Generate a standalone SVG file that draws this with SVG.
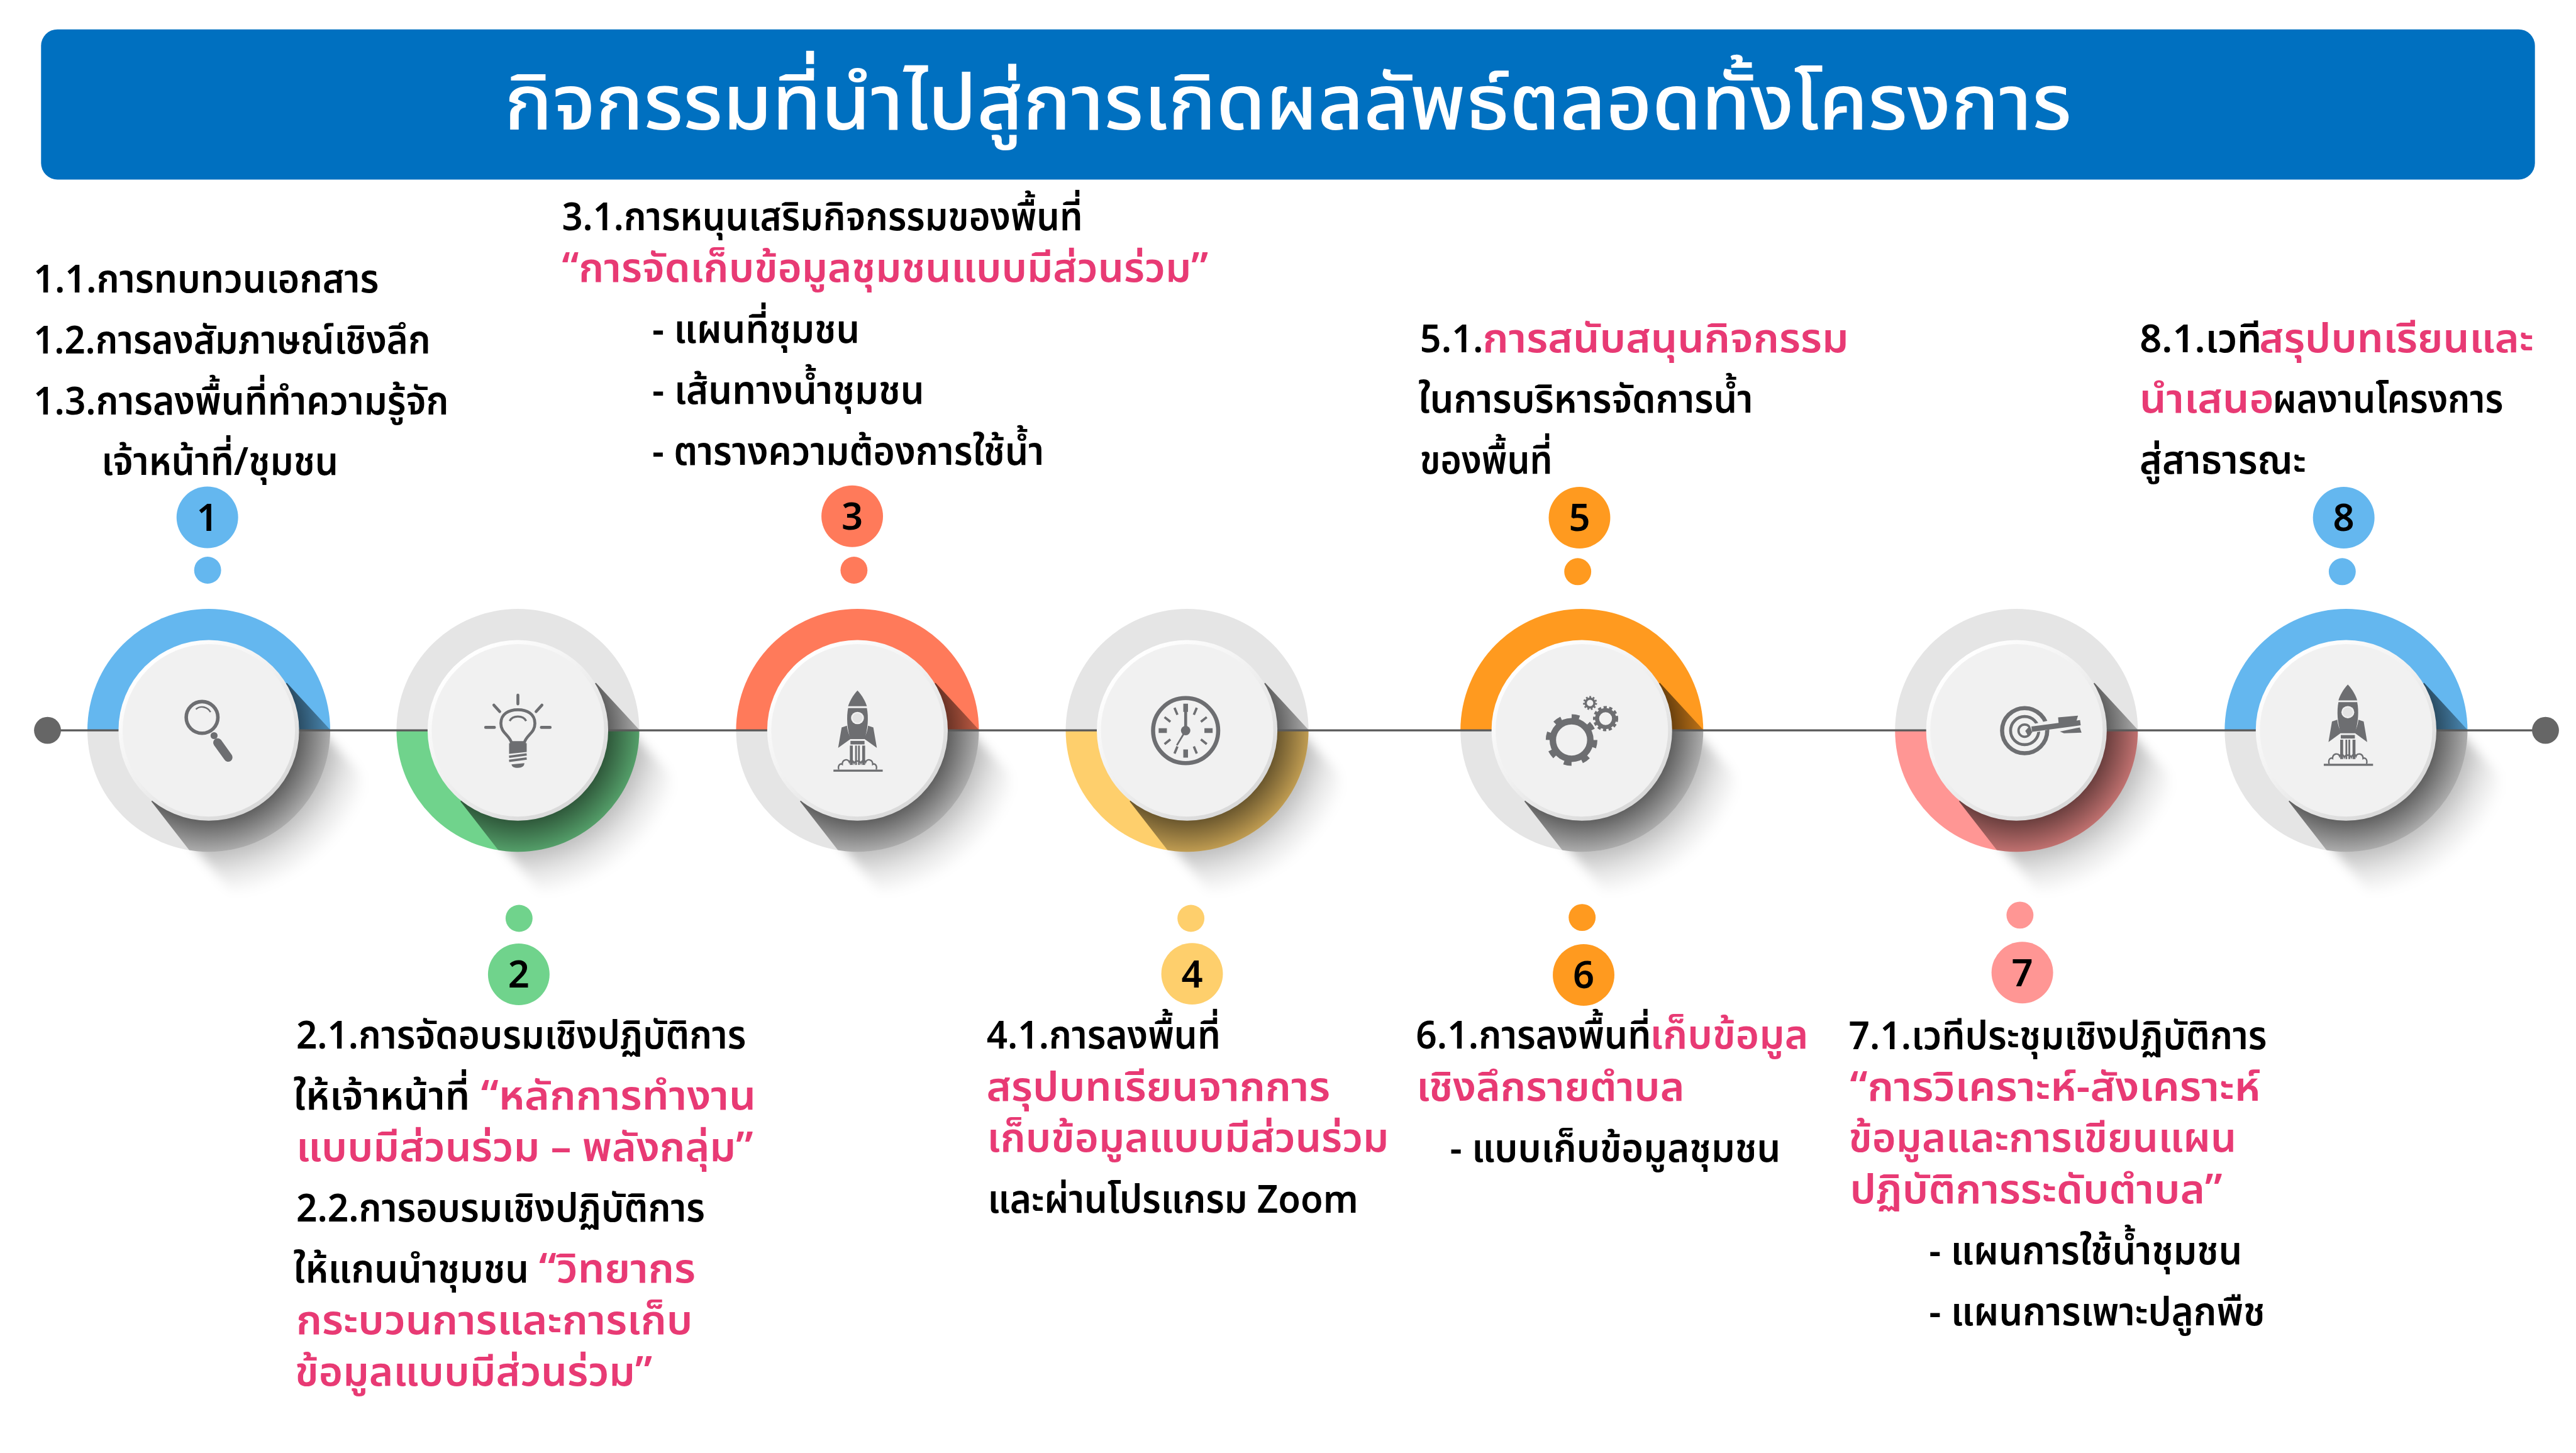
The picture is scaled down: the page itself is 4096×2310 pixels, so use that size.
<svg xmlns="http://www.w3.org/2000/svg" xmlns:xlink="http://www.w3.org/1999/xlink" width="4096" height="2310" viewBox="0 0 4096 2310">
<style>
text{font-family:"Noto Sans Thai","Noto Sans","Liberation Sans","DejaVu Sans",sans-serif}
.b{font-size:66px;font-weight:600;fill:#000}
.r{font-size:69px;font-weight:600;fill:#e83a74}
.t{font-size:132px;font-weight:500;fill:#fff}
.n{font-size:64px;font-weight:600;fill:#000;text-anchor:middle}
.blue{fill:#64b7ef}.green{fill:#70d38c}.coral{fill:#ff7a5a}.yellow{fill:#fecf6c}.orange{fill:#ff9a1f}.pink{fill:#ff9694}
.grey{fill:#e5e5e5}
.i{fill:#6d6e71}
.s{fill:none;stroke:#6d6e71}
.conn{fill:none;stroke:#595959;stroke-width:3.500}
</style>
<defs>
<radialGradient id="sh" gradientUnits="userSpaceOnUse" cx="0" cy="0" r="300">
<stop offset=".5" stop-color="#000" stop-opacity=".6"/>
<stop offset=".69" stop-color="#000" stop-opacity=".25"/>
<stop offset="1" stop-color="#000" stop-opacity=".1"/>
</radialGradient>
<radialGradient id="shOut" gradientUnits="userSpaceOnUse" cx="0" cy="0" r="285">
<stop offset=".7" stop-color="#000" stop-opacity=".27"/>
<stop offset=".85" stop-color="#000" stop-opacity=".1"/>
<stop offset="1" stop-color="#000" stop-opacity="0"/>
</radialGradient>
<linearGradient id="rim" x1=".18" y1=".12" x2=".8" y2=".88">
<stop offset="0" stop-color="#fff"/>
<stop offset=".5" stop-color="#efefef"/>
<stop offset="1" stop-color="#d9d9d9"/>
</linearGradient>
<filter id="soft" filterUnits="userSpaceOnUse" x="-100" y="-100" width="500" height="500"><feGaussianBlur stdDeviation="9"/></filter>
<clipPath id="disc"><circle r="207"/></clipPath>
<path id="up" d="M-207,0A207,207 0 0 1 207,0Z"/>
<path id="down" d="M-207,0A207,207 0 0 0 207,0Z"/>
<path id="cast" d="M190,0L256,71L268,140L225,225L140,275L38,275L-32,190Z" fill="url(#shOut)" filter="url(#soft)"/>
<g id="face">
<path d="M133,-81L350,154L100,376L-98,121Z" fill="url(#sh)" clip-path="url(#disc)"/>
<circle r="154" fill="url(#rim)"/>
<circle r="147" fill="#f1f1f1"/>
</g>
<g id="rocket">
<path class="i" d="M0,0C-8,8-14,20-16,27H16C14,20 8,8 0,0Z"/>
<path class="i" d="M-16,30H16C19,45 18,65 12,83H-12C-18,65-19,45-16,30Z"/>
<ellipse cy="47" rx="11" ry="10.500" fill="#f1f1f1"/>
<ellipse cy="47" rx="8.500" ry="8" fill="#e3e3e3"/>
<path class="i" d="M-27,63L-18,60C-17,70-14,76-11,82L-33,98Z"/>
<path class="i" d="M27,63L18,60C17,70 14,76 11,82L33,98Z"/>
<rect class="i" x="-12" y="86" width="24" height="6"/>
<rect class="i" x="-13" y="94" width="5" height="33"/>
<rect class="i" x="-4" y="94" width="3" height="33"/>
<rect class="i" x="1" y="94" width="3" height="33"/>
<rect class="i" x="8" y="94" width="5" height="33"/>
<path class="s" stroke-width="2.500" d="M-32,135C-34,127-29,124-26,126C-26,117-16,116-14,122C-12,118-8,118-6,124C-4,119 4,119 6,124C8,118 12,118 14,122C16,116 26,117 26,126C29,124 34,127 32,135"/>
<rect class="i" x="-41" y="135" width="84" height="3.500"/>
</g>
</defs>
<g transform="scale(.93260)">
<g id="header">
<rect x="70" y="50" width="4252" height="256" rx="28" fill="#0070c0"/>
<text class="t" x="860" y="221" textLength="2672" lengthAdjust="spacingAndGlyphs">กิจกรรมที่นำไปสู่การเกิดผลลัพธ์ตลอดทั้งโครงการ</text>
</g>

<g id="node-1">
<use href="#cast" x="356" y="1245"/>
<use href="#up" x="356" y="1245" class="blue"/><use href="#down" x="356" y="1245" class="grey"/>
<use href="#face" x="356" y="1245"/>
<circle class="s" cx="344.500" cy="1223" r="27" stroke-width="6"/>
<path class="s" stroke-width="2.500" d="M334,1209C342,1202 354,1205 359,1214"/>
<circle class="i" cx="365" cy="1254" r="6"/>
<path class="s" stroke-width="15" stroke-linecap="round" d="M371,1266L389,1291"/>
<circle class="blue" cx="354" cy="972" r="23"/>
<circle class="blue" cx="353.500" cy="882" r="52.500"/>
<text class="n" x="353.500" y="905">1</text>
<text class="b" x="57" y="499" textLength="589" lengthAdjust="spacingAndGlyphs">1.1.การทบทวนเอกสาร</text>
<text class="b" x="57" y="603" textLength="677" lengthAdjust="spacingAndGlyphs">1.2.การลงสัมภาษณ์เชิงลึก</text>
<text class="b" x="57" y="707" textLength="708" lengthAdjust="spacingAndGlyphs">1.3.การลงพื้นที่ทำความรู้จัก</text>
<text class="b" x="173" y="810" textLength="404" lengthAdjust="spacingAndGlyphs">เจ้าหน้าที่/ชุมชน</text>
</g>

<g id="node-2">
<use href="#cast" x="883" y="1245"/>
<use href="#up" x="883" y="1245" class="grey"/><use href="#down" x="883" y="1245" class="green"/>
<use href="#face" x="883" y="1245"/>
<path class="s" stroke-width="5" d="M872,1266C868,1252 854,1250 854,1233C854,1217 867,1210 883,1210C899,1210 912,1217 912,1233C912,1250 898,1252 894,1266Z"/>
<path class="s" stroke-width="3.500" d="M869,1229C874,1219 892,1219 897,1229"/>
<path class="i" d="M868,1267H898V1282L868,1285Z"/>
<path class="s" stroke-width="4" d="M868,1290L898,1286M868,1297L898,1293"/>
<path class="i" d="M872,1303L894,1301C894,1306 890,1309 883,1309C876,1309 873,1307 872,1303Z"/>
<path class="s" stroke-width="5" stroke-linecap="round" d="M883,1185V1200M842,1202L852,1213M924,1202L914,1213M828,1240H843M923,1240H938"/>
<circle class="green" cx="885" cy="1565.500" r="23"/>
<circle class="green" cx="884.500" cy="1661" r="52.500"/>
<text class="n" x="884.500" y="1684">2</text>
<text class="b" x="505" y="1787" textLength="767" lengthAdjust="spacingAndGlyphs">2.1.การจัดอบรมเชิงปฏิบัติการ</text>
<text class="b" x="500" y="1891" textLength="301" lengthAdjust="spacingAndGlyphs">ให้เจ้าหน้าที่</text>
<text class="r" x="820" y="1891" textLength="469" lengthAdjust="spacingAndGlyphs">“หลักการทำงาน</text>
<text class="r" x="505" y="1979" textLength="779" lengthAdjust="spacingAndGlyphs">แบบมีส่วนร่วม – พลังกลุ่ม”</text>
<text class="b" x="505" y="2082" textLength="697" lengthAdjust="spacingAndGlyphs">2.2.การอบรมเชิงปฏิบัติการ</text>
<text class="b" x="500" y="2186" textLength="402" lengthAdjust="spacingAndGlyphs">ให้แกนนำชุมชน</text>
<text class="r" x="919" y="2186" textLength="267" lengthAdjust="spacingAndGlyphs">“วิทยากร</text>
<text class="r" x="505" y="2274" textLength="676" lengthAdjust="spacingAndGlyphs">กระบวนการและการเก็บ</text>
<text class="r" x="503" y="2362" textLength="609" lengthAdjust="spacingAndGlyphs">ข้อมูลแบบมีส่วนร่วม”</text>
</g>

<g id="node-3">
<use href="#cast" x="1462" y="1245"/>
<use href="#up" x="1462" y="1245" class="coral"/><use href="#down" x="1462" y="1245" class="grey"/>
<use href="#face" x="1462" y="1245"/>
<use href="#rocket" x="1462" y="1177"/>
<circle class="coral" cx="1456" cy="972" r="23"/>
<circle class="coral" cx="1453" cy="880" r="52.500"/>
<text class="n" x="1453" y="903">3</text>
<text class="b" x="958" y="392" textLength="888" lengthAdjust="spacingAndGlyphs">3.1.การหนุนเสริมกิจกรรมของพื้นที่</text>
<text class="r" x="958" y="480" textLength="1102" lengthAdjust="spacingAndGlyphs">“การจัดเก็บข้อมูลชุมชนแบบมีส่วนร่วม”</text>
<text class="b" x="1112" y="584" textLength="354" lengthAdjust="spacingAndGlyphs">- แผนที่ชุมชน</text>
<text class="b" x="1112" y="688" textLength="464" lengthAdjust="spacingAndGlyphs">- เส้นทางน้ำชุมชน</text>
<text class="b" x="1112" y="792" textLength="668" lengthAdjust="spacingAndGlyphs">- ตารางความต้องการใช้น้ำ</text>
</g>

<g id="node-4">
<use href="#cast" x="2024" y="1245"/>
<use href="#up" x="2024" y="1245" class="grey"/><use href="#down" x="2024" y="1245" class="yellow"/>
<use href="#face" x="2024" y="1245"/>
<g transform="translate(2021.500,1245.500)">
<circle class="s" r="55.500" stroke-width="7"/>
<path class="s" stroke-width="8" d="M0,-46V-32M0,46V32M-46,0H-32M46,0H32"/>
<path class="s" stroke-width="4" d="M-19,-39L-14,-27M19,-39L14,-27M-36,-23L-26,-15M36,-23L26,-15M-36,23L-26,15M36,23L26,15M-19,39L-14,27M19,39L14,27"/>
<path class="s" stroke-width="5" d="M0,0V-33"/>
<path class="s" stroke-width="3" d="M0,0L-15,25"/>
<circle class="i" r="8"/>
</g>
<circle class="yellow" cx="2030.500" cy="1565.500" r="23"/>
<circle class="yellow" cx="2032.500" cy="1660" r="52.500"/>
<text class="n" x="2032.500" y="1683">4</text>
<text class="b" x="1682" y="1788" textLength="399" lengthAdjust="spacingAndGlyphs">4.1.การลงพื้นที่</text>
<text class="r" x="1682" y="1876" textLength="586" lengthAdjust="spacingAndGlyphs">สรุปบทเรียนจากการ</text>
<text class="r" x="1683" y="1963" textLength="685" lengthAdjust="spacingAndGlyphs">เก็บข้อมูลแบบมีส่วนร่วม</text>
<text class="b" x="1684" y="2067" textLength="632" lengthAdjust="spacingAndGlyphs">และผ่านโปรแกรม Zoom</text>
</g>

<g id="node-5">
<use href="#cast" x="2697" y="1245"/>
<use href="#up" x="2697" y="1245" class="orange"/><use href="#down" x="2697" y="1245" class="grey"/>
<use href="#face" x="2697" y="1245"/>
<g class="gears">
<circle class="s" cx="2679.500" cy="1261.500" r="32" stroke-width="11"/>
<circle class="s" cx="2679.500" cy="1261.500" r="39.500" stroke-width="9" stroke-dasharray="13 18"/>
<circle class="s" cx="2737.500" cy="1225" r="14.500" stroke-width="7"/>
<circle class="s" cx="2737.500" cy="1225" r="19" stroke-width="5" stroke-dasharray="5.500 4"/>
<circle class="s" cx="2711" cy="1198.500" r="7.500" stroke-width="4"/>
<circle class="s" cx="2711" cy="1198.500" r="10.500" stroke-width="3" stroke-dasharray="3 3"/>
</g>
<circle class="orange" cx="2690" cy="974.500" r="23"/>
<circle class="orange" cx="2693" cy="882.500" r="52.500"/>
<text class="n" x="2693" y="905">5</text>
<text class="b" x="2421" y="600" textLength="108" lengthAdjust="spacingAndGlyphs">5.1.</text>
<text class="r" x="2528" y="600" textLength="624" lengthAdjust="spacingAndGlyphs">การสนับสนุนกิจกรรม</text>
<text class="b" x="2418" y="703" textLength="571" lengthAdjust="spacingAndGlyphs">ในการบริหารจัดการน้ำ</text>
<text class="b" x="2421" y="807" textLength="226" lengthAdjust="spacingAndGlyphs">ของพื้นที่</text>
</g>

<g id="node-6">
<circle class="orange" cx="2697.500" cy="1564" r="23"/>
<circle class="orange" cx="2700" cy="1662" r="52.500"/>
<text class="n" x="2700" y="1685">6</text>
<text class="b" x="2414" y="1788" textLength="401" lengthAdjust="spacingAndGlyphs">6.1.การลงพื้นที่</text>
<text class="r" x="2813" y="1788" textLength="270" lengthAdjust="spacingAndGlyphs">เก็บข้อมูล</text>
<text class="r" x="2415" y="1876" textLength="457" lengthAdjust="spacingAndGlyphs">เชิงลึกรายตำบล</text>
<text class="b" x="2472" y="1980" textLength="564" lengthAdjust="spacingAndGlyphs">- แบบเก็บข้อมูลชุมชน</text>
</g>

<g id="node-7">
<use href="#cast" x="3438" y="1245"/>
<use href="#up" x="3438" y="1245" class="grey"/><use href="#down" x="3438" y="1245" class="pink"/>
<use href="#face" x="3438" y="1245"/>
<circle class="s" cx="3452" cy="1245.500" r="38.500" stroke-width="7"/>
<circle class="s" cx="3452" cy="1245.500" r="24" stroke-width="5"/>
<circle class="s" cx="3452" cy="1245.500" r="10.500" stroke-width="4"/>
<path fill="none" stroke="#f1f1f1" stroke-width="15" d="M3462,1243L3510,1232"/>
<path class="s" stroke-width="9" d="M3464,1243L3547,1232"/>
<path class="i" d="M3453,1246L3461,1237L3465,1249L3457,1253Z"/>
<path class="i" d="M3509,1223L3543,1220L3540,1230L3510,1234Z"/>
<path class="i" d="M3512,1247L3546,1240L3549,1249L3519,1250Z"/>
<circle class="pink" cx="3444" cy="1560" r="23"/>
<circle class="pink" cx="3448" cy="1658" r="52.500"/>
<text class="n" x="3448" y="1681">7</text>
<text class="b" x="3152" y="1789" textLength="713" lengthAdjust="spacingAndGlyphs">7.1.เวทีประชุมเชิงปฏิบัติการ</text>
<text class="r" x="3154" y="1876" textLength="700" lengthAdjust="spacingAndGlyphs">“การวิเคราะห์-สังเคราะห์</text>
<text class="r" x="3152" y="1963" textLength="661" lengthAdjust="spacingAndGlyphs">ข้อมูลและการเขียนแผน</text>
<text class="r" x="3154" y="2051" textLength="635" lengthAdjust="spacingAndGlyphs">ปฏิบัติการระดับตำบล”</text>
<text class="b" x="3289" y="2155" textLength="534" lengthAdjust="spacingAndGlyphs">- แผนการใช้น้ำชุมชน</text>
<text class="b" x="3289" y="2259" textLength="573" lengthAdjust="spacingAndGlyphs">- แผนการเพาะปลูกพืช</text>
</g>

<g id="node-8">
<use href="#cast" x="4000" y="1245"/>
<use href="#up" x="4000" y="1245" class="blue"/><use href="#down" x="4000" y="1245" class="grey"/>
<use href="#face" x="4000" y="1245"/>
<use href="#rocket" x="4003" y="1167"/>
<circle class="blue" cx="3993.500" cy="974.500" r="23"/>
<circle class="blue" cx="3996" cy="882.500" r="52.500"/>
<text class="n" x="3996" y="905">8</text>
<text class="b" x="3648" y="600" textLength="208" lengthAdjust="spacingAndGlyphs">8.1.เวที</text>
<text class="r" x="3852" y="600" textLength="468" lengthAdjust="spacingAndGlyphs">สรุปบทเรียนและ</text>
<text class="r" x="3648" y="703" textLength="229" lengthAdjust="spacingAndGlyphs">นำเสนอ</text>
<text class="b" x="3875" y="703" textLength="393" lengthAdjust="spacingAndGlyphs">ผลงานโครงการ</text>
<text class="b" x="3648" y="807" textLength="284" lengthAdjust="spacingAndGlyphs">สู่สาธารณะ</text>
</g>

<g id="connectors">
<path class="conn" d="M81,1245H202M510,1245H729M1037,1245H1308M1616,1245H1870M2178,1245H2543M2851,1245H3284M3592,1245H3846M4154,1245H4340"/>
<circle cx="81" cy="1245" r="23" fill="#666"/>
<circle cx="4340" cy="1245" r="23" fill="#666"/>
</g>
</g>
</svg>
